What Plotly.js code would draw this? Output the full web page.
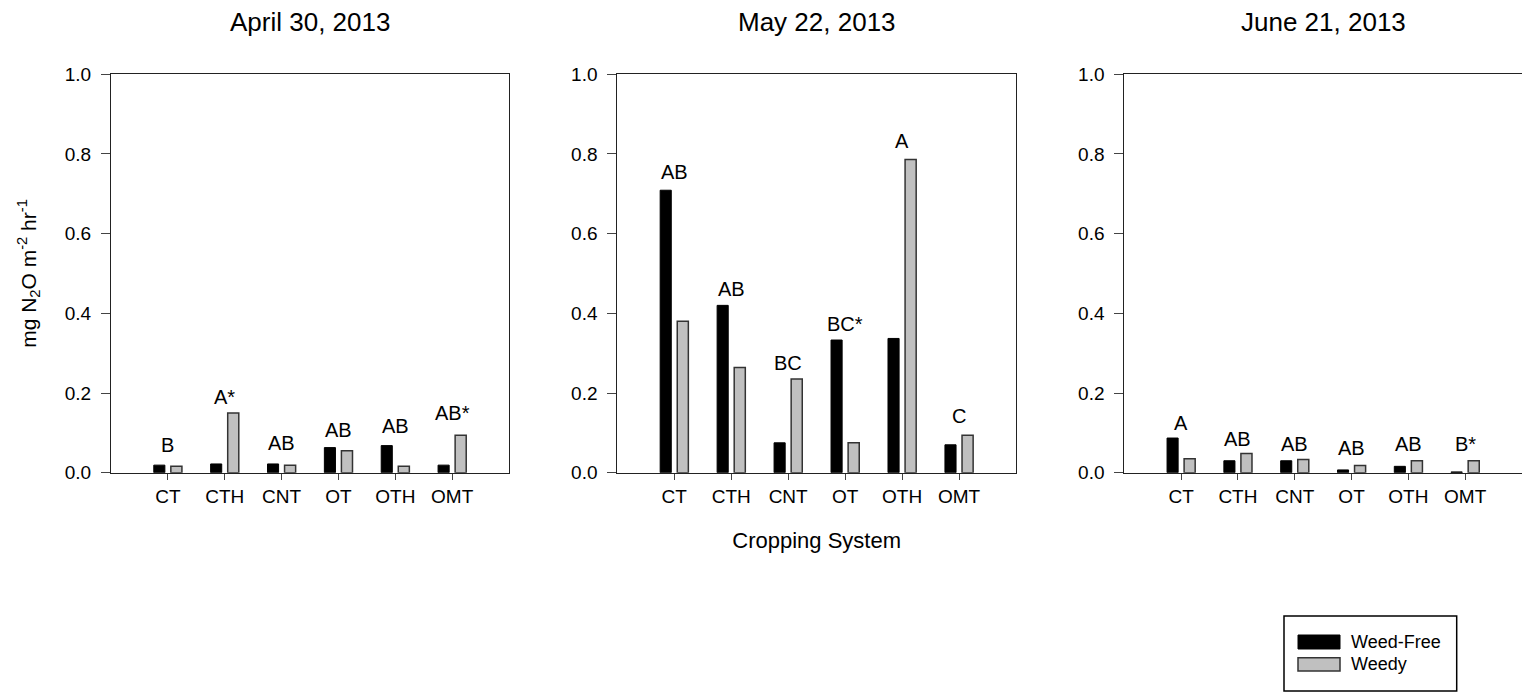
<!DOCTYPE html>
<html>
<head>
<meta charset="utf-8">
<script src="https://cdn.plot.ly/plotly-3.0.1.min.js"></script>
<style>
  html, body { margin: 0; padding: 0; background: #ffffff; }
  #chart { width: 1522px; height: 695px; }
</style>
</head>
<body>
<div id="chart"></div>
<script>
// ---------- data ----------
const categories = ['CT', 'CTH', 'CNT', 'OT', 'OTH', 'OMT'];
const panelTitles = ['April 30, 2013', 'May 22, 2013', 'June 21, 2013'];
const seriesNames = ['Weed-Free', 'Weedy'];

const aprWeedFree = [0.019, 0.022, 0.022, 0.063, 0.068, 0.019];
const aprWeedy    = [0.016, 0.150, 0.019, 0.055, 0.016, 0.094];
const mayWeedFree = [0.709, 0.420, 0.075, 0.333, 0.337, 0.070];
const mayWeedy    = [0.380, 0.264, 0.235, 0.075, 0.786, 0.094];
const junWeedFree = [0.087, 0.030, 0.030, 0.007, 0.016, 0.002];
const junWeedy    = [0.035, 0.048, 0.033, 0.018, 0.030, 0.030];

const aprLetters = ['B', 'A*', 'AB', 'AB', 'AB', 'AB*'];
const mayLetters = ['AB', 'AB', 'BC', 'BC*', 'A', 'C'];
const junLetters = ['A', 'AB', 'AB', 'AB', 'AB', 'B*'];

// heights (data units) at which the significance letters sit
const aprLetterHeight = [0.070, 0.190, 0.075, 0.108, 0.117, 0.150];
const mayLetterHeight = [0.755, 0.462, 0.276, 0.374, 0.833, 0.142];
const junLetterHeight = [0.124, 0.084, 0.072, 0.063, 0.072, 0.072];

const yTickVals = [0, 0.2, 0.4, 0.6, 0.8, 1.0];

// ---------- styling ----------
const W = 1522, H = 695;
const FONT = 'Liberation Sans, Arial, Helvetica, sans-serif';
const px = v => v / W;
const py = v => 1 - v / H;

const panels = [
  {wf: aprWeedFree, wd: aprWeedy, letters: aprLetters, lh: aprLetterHeight, dom: [px(111), px(509)]},
  {wf: mayWeedFree, wd: mayWeedy, letters: mayLetters, lh: mayLetterHeight, dom: [px(617.3), px(1016)]},
  {wf: junWeedFree, wd: junWeedy, letters: junLetters, lh: junLetterHeight, dom: [px(1124.3), px(1522)]}
];
const yDom = [py(472.7), py(74.3)];

const traces = [];
const annotations = [];
const layout = {
  width: W, height: H,
  margin: {l: 0, r: 0, t: 0, b: 0, pad: 0},
  paper_bgcolor: '#ffffff', plot_bgcolor: '#ffffff',
  font: {family: FONT, color: '#000000', size: 19},
  barmode: 'group',
  bargap: 0.40,
  bargroupgap: 0.35,
  showlegend: false,
  annotations: annotations,
  shapes: []
};

panels.forEach((p, i) => {
  const sfx = i === 0 ? '' : String(i + 1);
  const xa = 'x' + sfx, ya = 'y' + sfx;
  traces.push({
    type: 'bar', name: seriesNames[0], x: categories, y: p.wf,
    xaxis: xa, yaxis: ya,
    marker: {color: '#000000', line: {color: '#000000', width: 1}},
    hoverinfo: 'x+y+name'
  });
  traces.push({
    type: 'bar', name: seriesNames[1], x: categories, y: p.wd,
    xaxis: xa, yaxis: ya,
    marker: {color: '#c0c0c0', line: {color: '#333333', width: 1.5}},
    hoverinfo: 'x+y+name'
  });

  layout['xaxis' + sfx] = {
    domain: p.dom, anchor: ya,
    type: 'category', categoryorder: 'array', categoryarray: categories,
    range: [-1, 6], autorange: false,
    showline: true, linecolor: '#222222', linewidth: 1, mirror: true,
    ticks: 'outside', ticklen: 6, tickwidth: 1, tickcolor: '#444444',
    tickfont: {family: FONT, size: 19, color: '#000000'},
    showgrid: false, zeroline: false, fixedrange: true
  };
  layout['yaxis' + sfx] = {
    domain: yDom, anchor: xa,
    range: [0, 1], autorange: false,
    tickvals: yTickVals, tickformat: '.1f',
    showline: true, linecolor: '#222222', linewidth: 1, mirror: true,
    ticks: 'outside', ticklen: 9, tickwidth: 1, tickcolor: '#444444',
    ticklabelstandoff: 6,
    tickfont: {family: FONT, size: 19, color: '#000000'},
    showgrid: false, zeroline: false, fixedrange: true
  };

  // panel title
  annotations.push({
    xref: 'paper', yref: 'paper',
    x: (p.dom[0] + p.dom[1]) / 2, y: py(22),
    xanchor: 'center', yanchor: 'middle', showarrow: false,
    text: panelTitles[i], font: {family: FONT, size: 26, color: '#000000'}
  });

  // significance letters
  categories.forEach((c, k) => {
    annotations.push({
      xref: xa, yref: ya, x: c, y: p.lh[k],
      xanchor: 'center', yanchor: 'middle', showarrow: false,
      text: p.letters[k], font: {family: FONT, size: 20, color: '#000000'}
    });
  });
});

layout.yaxis.title = {
  text: 'mg N<sub>2</sub>O m<sup>-2</sup> hr<sup>-1</sup>',
  font: {family: FONT, size: 21, color: '#000000'},
  standoff: 22
};
layout.xaxis2.title = {
  text: 'Cropping System',
  font: {family: FONT, size: 22, color: '#000000'},
  standoff: 27
};

// legend box (drawn manually to match the wide swatches)
layout.shapes.push(
  {type: 'rect', xref: 'paper', yref: 'paper', x0: px(1284), x1: px(1456.7), y0: py(691), y1: py(616),
   line: {color: '#000000', width: 1.5}, fillcolor: 'rgba(0,0,0,0)'},
  {type: 'rect', xref: 'paper', yref: 'paper', x0: px(1298), x1: px(1340), y0: py(649), y1: py(635),
   line: {color: '#000000', width: 1}, fillcolor: '#000000'},
  {type: 'rect', xref: 'paper', yref: 'paper', x0: px(1298), x1: px(1340), y0: py(671), y1: py(657.7),
   line: {color: '#333333', width: 1.5}, fillcolor: '#c0c0c0'}
);
annotations.push(
  {xref: 'paper', yref: 'paper', x: px(1349), y: py(642), xanchor: 'left', yanchor: 'middle',
   showarrow: false, text: seriesNames[0], font: {family: FONT, size: 18, color: '#000000'}},
  {xref: 'paper', yref: 'paper', x: px(1349), y: py(664), xanchor: 'left', yanchor: 'middle',
   showarrow: false, text: seriesNames[1], font: {family: FONT, size: 18, color: '#000000'}}
);

Plotly.newPlot('chart', traces, layout, {displayModeBar: false, staticPlot: false, responsive: false});
</script>
</body>
</html>
